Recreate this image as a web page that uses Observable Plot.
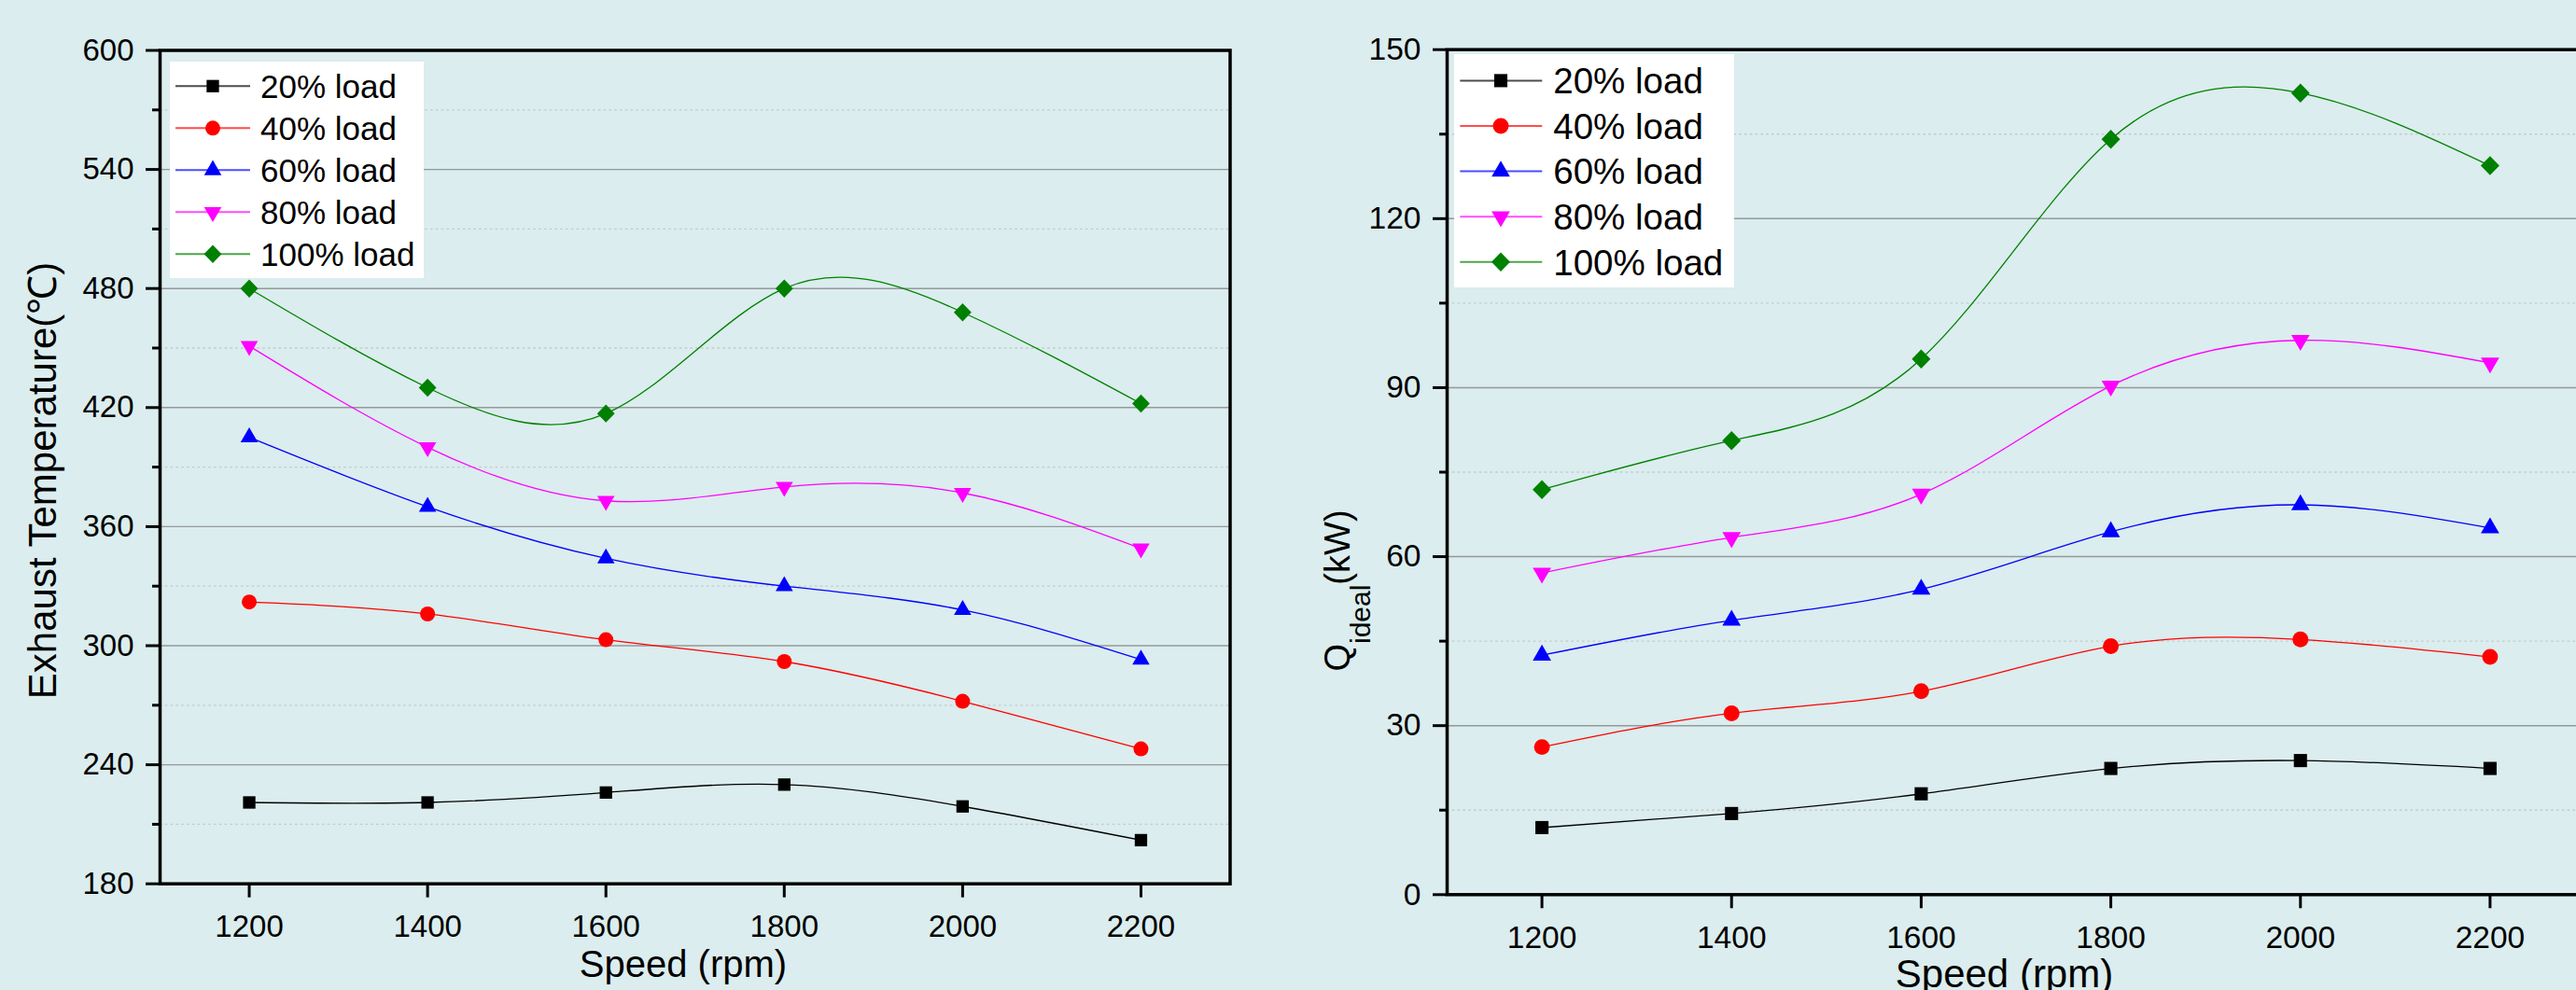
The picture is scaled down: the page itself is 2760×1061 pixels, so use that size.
<!DOCTYPE html>
<html><head><meta charset="utf-8">
<script src="https://cdn.jsdelivr.net/npm/d3@7"></script>
<script src="https://cdn.jsdelivr.net/npm/@observablehq/plot@0.6"></script>
<style>
html,body{margin:0;padding:0;background:#dbedee;overflow:hidden;width:2760px;height:1061px;}
#wrap{position:relative;width:2760px;height:1061px;overflow:hidden;font-family:"Liberation Sans",Arial,sans-serif;}
.panel{position:absolute;top:0;height:1061px;}
.panel > svg{max-width:none !important;}
.legend{position:absolute;background:#ffffff;}
</style></head><body><div id="wrap"></div>
<script>
// ---- data ----
const speeds = [1200, 1400, 1600, 1800, 2000, 2200];
const loads = ["20% load", "40% load", "60% load", "80% load", "100% load"];
const colors = ["#000000", "#ff0000", "#0000ff", "#ff00ff", "#008000"];

const exhaust20 = [221, 221, 226, 230, 219, 202];
const exhaust40 = [322, 316, 303, 292, 272, 248];
const exhaust60 = [405, 370, 344, 330, 318, 293];
const exhaust80 = [451, 400, 373, 380, 377, 349];
const exhaust100 = [480, 430, 417, 480, 468, 422];

const qideal20 = [11.9, 14.4, 17.9, 22.4, 23.8, 22.4];
const qideal40 = [26.2, 32.2, 36.1, 44.1, 45.3, 42.2];
const qideal60 = [42.5, 48.7, 54.2, 64.4, 69.2, 65.1];
const qideal80 = [57.1, 63.4, 71.1, 90.3, 98.4, 94.4];
const qideal100 = [71.9, 80.6, 95.1, 134.1, 142.3, 129.4];

const exhaustMajor = [180, 240, 300, 360, 420, 480, 540, 600];
const exhaustMinor = [210, 270, 330, 390, 450, 510, 570];
const qMajor = [0, 30, 60, 90, 120, 150];
const qMinor = [15, 45, 75, 105, 135];

// ---- symbols ----
const diamond = {draw(ctx, size) {
  const s = Math.sqrt(size), w = s * 0.76, h = s * 0.78;
  ctx.moveTo(0, -h); ctx.lineTo(w, 0); ctx.lineTo(0, h); ctx.lineTo(-w, 0); ctx.closePath();
}};
const symbols = ["square", "circle", "triangle", "triangle", diamond];
const d3symbols = [d3.symbolSquare, d3.symbolCircle, d3.symbolTriangle, d3.symbolTriangle, diamond];
const rotations = [0, 0, 0, 180, 0];
const radii = [7.5, 8.0, 6.9, 6.9, 7.0];

function table(seriesArrays) {
  const rows = [];
  seriesArrays.forEach((vals, i) => vals.forEach((v, j) => rows.push({speed: speeds[j], value: v, load: loads[i], idx: i})));
  return rows;
}

const FONT = '"Liberation Sans", Arial, sans-serif';

function panel({seriesArrays, yDomain, major, minor, width, height, mL, mR, mT, mB, tickFont, rScale}) {
  const rows = table(seriesArrays);
  const gridMajor = major.filter(v => v !== yDomain[0] && v !== yDomain[1]);
  const marks = [
    Plot.ruleY(minor, {stroke: "#c3cbcb", strokeWidth: 1.3, strokeDasharray: "2.6,3.2"}),
    Plot.ruleY(gridMajor, {stroke: "#959898", strokeWidth: 1.4}),
    Plot.axisY(minor, {tickSize: 8, strokeWidth: 3, tickFormat: () => "", label: null}),
    Plot.axisY(major, {tickSize: 15, strokeWidth: 3, tickPadding: 13, fontSize: tickFont, tickFormat: "d", label: null}),
    Plot.axisX(speeds, {tickSize: 15, strokeWidth: 3, tickPadding: 18, fontSize: tickFont, tickFormat: "d", label: null})
  ];
  loads.forEach((ld, i) => {
    const d = rows.filter(r => r.idx === i);
    marks.push(Plot.line(d, {x: "speed", y: "value", stroke: colors[i], strokeWidth: 1.3, curve: "natural"}));
    marks.push(Plot.dot(d, {x: "speed", y: "value", symbol: symbols[i], r: radii[i] * rScale, fill: colors[i], stroke: "none", rotate: rotations[i]}));
  });
  marks.push(Plot.frame({stroke: "#000", strokeWidth: 3.5}));
  return Plot.plot({
    width, height, marginLeft: mL, marginRight: mR, marginTop: mT, marginBottom: mB,
    x: {domain: [1100, 2300]},
    y: {domain: yDomain},
    style: {background: "transparent", fontFamily: FONT, color: "#000", overflow: "visible", maxWidth: "none", height: height + "px"},
    marks
  });
}

function legend(parent, {left, top, w, h, row0, gap, lx0, lx1, mx, tx, fontSize, rScale}) {
  const svg = d3.select(parent).append("svg").attr("class", "legend")
    .style("left", left + "px").style("top", top + "px")
    .attr("width", w).attr("height", h).style("font-family", FONT);
  loads.forEach((ld, i) => {
    const y = row0 + i * gap;
    svg.append("line").attr("x1", lx0).attr("x2", lx1).attr("y1", y).attr("y2", y)
      .attr("stroke", colors[i]).attr("stroke-width", 2).attr("stroke-opacity", 0.7);
    const r = radii[i] * rScale;
    svg.append("path").attr("d", d3.symbol().type(d3symbols[i]).size(Math.PI * r * r)())
      .attr("transform", `translate(${mx},${y}) rotate(${rotations[i]})`).attr("fill", colors[i]);
    svg.append("text").attr("x", tx).attr("y", y).attr("dy", "0.36em")
      .attr("font-size", fontSize).attr("fill", "#000").text(ld);
  });
}

const wrap = document.getElementById("wrap");

// ---- left panel ----
const leftDiv = document.createElement("div");
leftDiv.className = "panel"; leftDiv.style.left = "0px"; leftDiv.style.width = "1380px";
wrap.appendChild(leftDiv);
const p1 = panel({seriesArrays: [exhaust20, exhaust40, exhaust60, exhaust80, exhaust100],
  yDomain: [180, 600], major: exhaustMajor, minor: exhaustMinor,
  width: 1380, height: 1061, mL: 171, mR: 62.5, mT: 53.5, mB: 114.3, tickFont: 33, rScale: 1});
leftDiv.appendChild(p1);
const s1 = d3.select(p1);
s1.append("text").attr("transform", "translate(60,515) rotate(-90)").attr("text-anchor", "middle")
  .attr("font-size", 42).attr("font-family", FONT).attr("fill", "#000").text("Exhaust Temperature(℃)");
s1.append("text").attr("x", 732).attr("y", 1046.5).attr("text-anchor", "middle")
  .attr("font-size", 40).attr("font-family", FONT).attr("fill", "#000").text("Speed (rpm)");
legend(leftDiv, {left: 182, top: 66, w: 272, h: 232, row0: 26.3, gap: 45, lx0: 6, lx1: 86, mx: 46, tx: 97, fontSize: 35, rScale: 1});

// ---- right panel ----
const rightDiv = document.createElement("div");
rightDiv.className = "panel"; rightDiv.style.left = "1380px"; rightDiv.style.width = "1450px";
wrap.appendChild(rightDiv);
const p2 = panel({seriesArrays: [qideal20, qideal40, qideal60, qideal80, qideal100],
  yDomain: [0, 150], major: qMajor, minor: qMinor,
  width: 1450, height: 1061, mL: 170, mR: 61, mT: 52.7, mB: 102.7, tickFont: 33.5, rScale: 1.06});
rightDiv.appendChild(p2);
const s2 = d3.select(p2);
const yt = s2.append("text").attr("transform", "translate(66,633) rotate(-90)")
  .attr("font-family", FONT).attr("fill", "#000");
yt.append("tspan").attr("font-size", 38).text("Q");
yt.append("tspan").attr("font-size", 30).attr("dy", 22).text("ideal");
yt.append("tspan").attr("font-size", 38).attr("dy", -22).text("(kW)");
s2.append("text").attr("x", 767.5).attr("y", 1058).attr("text-anchor", "middle")
  .attr("font-size", 42).attr("font-family", FONT).attr("fill", "#000").text("Speed (rpm)");
legend(rightDiv, {left: 177.7, top: 58.3, w: 300, h: 250, row0: 28.4, gap: 48.6, lx0: 6.3, lx1: 94.3, mx: 50, tx: 106.3, fontSize: 38.5, rScale: 1.06});
</script></body></html>
